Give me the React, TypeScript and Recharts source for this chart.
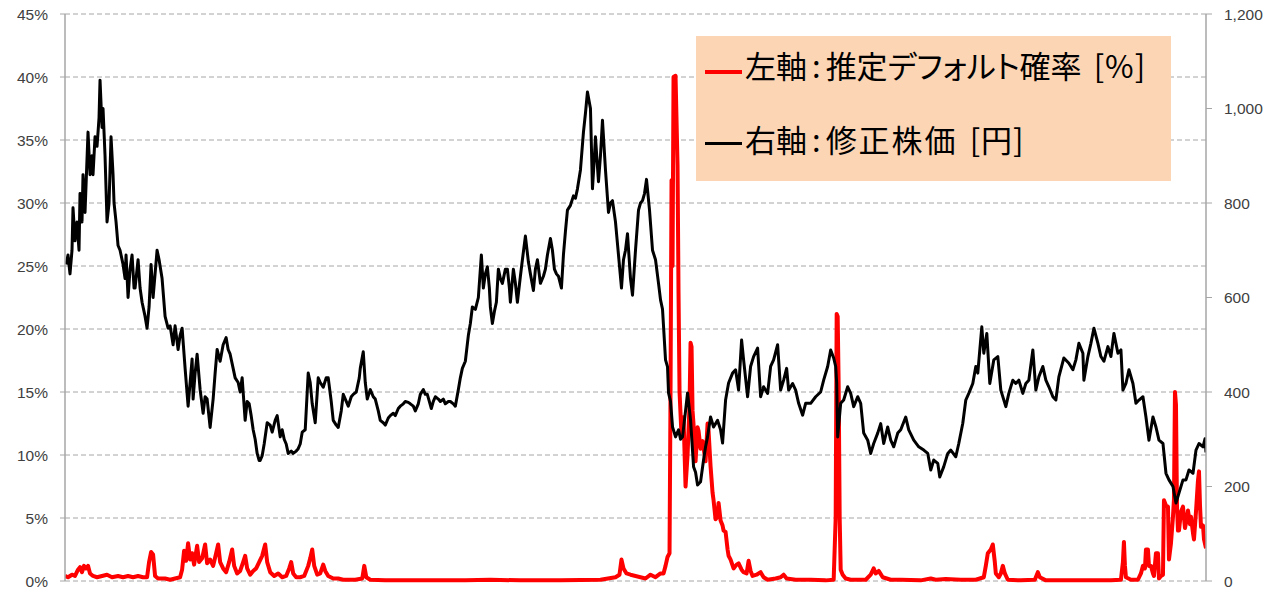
import React from 'react';
import { LineChart, Line, XAxis, YAxis, CartesianGrid, Legend } from 'recharts';

// week index (0 = first observation) and estimated default probability [%]
const pdSeries: [number, number][] = [
  [0, 0.4], [3, 0.3], [7, 0.5], [10, 0.4], [13, 0.9], [15, 1.1], [17, 0.7], [19, 1.2], [21, 1.0], [23, 1.2],
  [25, 0.6], [28, 0.4], [32, 0.3], [37, 0.4], [42, 0.5], [47, 0.3], [53, 0.4], [58, 0.3], [63, 0.4], [68, 0.3],
  [73, 0.4], [78, 0.3], [82, 0.3], [84, 1.5], [86, 2.3], [88, 2.1], [90, 0.4], [93, 0.2], [100, 0.2], [105, 0.1],
  [110, 0.2], [115, 0.3], [117, 0.9], [119, 2.4], [121, 1.6], [123, 3.0], [125, 1.7], [127, 2.2], [129, 1.3], [132, 2.8],
  [134, 1.5], [137, 1.8], [140, 2.9], [142, 1.4], [145, 1.7], [148, 1.2], [151, 2.2], [153, 2.9], [155, 1.5], [158, 1.0],
  [161, 0.7], [164, 1.5], [167, 2.5], [169, 1.2], [172, 0.6], [175, 0.8], [178, 1.5], [180, 2.0], [182, 1.0], [185, 0.5],
  [188, 0.8], [191, 1.0], [194, 1.5], [197, 2.0], [200, 2.9], [202, 1.5], [205, 0.7], [209, 0.4], [213, 0.6], [217, 0.3],
  [221, 0.4], [224, 1.0], [226, 1.5], [228, 0.6], [231, 0.3], [235, 0.3], [239, 0.4], [243, 1.2], [245, 1.8], [247, 2.5],
  [249, 1.2], [252, 0.5], [255, 0.6], [258, 1.3], [260, 0.8], [263, 0.4], [268, 0.2], [273, 0.2], [278, 0.1], [285, 0.1],
  [290, 0.1], [297, 0.2], [299, 1.2], [301, 0.3], [305, 0.1], [320, 0.05], [360, 0.05], [400, 0.05], [425, 0.1], [455, 0.05],
  [495, 0.05], [535, 0.1], [550, 0.3], [554, 0.5], [556, 1.7], [558, 1.0], [561, 0.6], [565, 0.5], [570, 0.4], [575, 0.3],
  [580, 0.2], [585, 0.5], [590, 0.3], [595, 0.6], [598, 0.6], [600, 1.2], [602, 1.9], [604, 2.2], [605, 15], [606, 31.8],
  [607, 25], [608, 40], [610, 40.1], [612, 33], [613, 22.8], [614, 15], [616, 11.5], [618, 13], [620, 7.5], [622, 10],
  [624, 14], [625, 18.9], [626, 18.6], [627, 13.5], [628, 12.4], [630, 9.5], [632, 12.2], [633, 11.9], [635, 10.5], [637, 11.1],
  [640, 9.5], [642, 12.5], [643, 11.9], [645, 9.1], [647, 7.0], [648, 6.4], [650, 4.9], [652, 5.1], [653, 6.2], [655, 4.8],
  [657, 4.4], [658, 4.0], [660, 3.9], [662, 2.5], [663, 2.0], [665, 1.7], [668, 1.0], [671, 1.3], [673, 1.4], [676, 0.9],
  [678, 0.7], [681, 0.6], [683, 1.6], [685, 0.8], [687, 0.4], [691, 0.5], [695, 0.7], [698, 0.3], [702, 0.1], [710, 0.2],
  [715, 0.3], [718, 0.5], [721, 0.2], [730, 0.1], [745, 0.1], [760, 0.05], [768, 0.1], [770, 5], [771, 21.2], [772, 21],
  [773, 15.4], [774, 5], [775, 0.9], [777, 0.5], [780, 0.2], [785, 0.1], [800, 0.1], [805, 0.5], [808, 1.0], [810, 0.6],
  [813, 0.8], [817, 0.3], [825, 0.1], [835, 0.1], [855, 0.05], [865, 0.2], [870, 0.1], [880, 0.15], [895, 0.1], [910, 0.1],
  [918, 0.3], [920, 1.2], [922, 2.2], [925, 2.5], [927, 2.9], [929, 1.5], [930, 0.6], [933, 0.3], [935, 0.6], [937, 1.2],
  [939, 0.6], [942, 0.1], [955, 0.05], [969, 0.1], [972, 0.7], [974, 0.3], [980, 0.05], [1015, 0.05], [1045, 0.05], [1055, 0.1],
  [1057, 1.5], [1058, 3.1], [1059, 1.2], [1060, 0.3], [1065, 0.1], [1072, 0.1], [1075, 0.6], [1077, 1.2], [1079, 1.0], [1080, 2.5],
  [1082, 2.5], [1083, 1.2], [1085, 1.2], [1087, 0.6], [1088, 0.4], [1090, 2.2], [1092, 2.2], [1093, 0.2], [1095, 0.4], [1097, 0.5],
  [1098, 6.4], [1100, 6.0], [1102, 5.9], [1103, 1.7], [1105, 3.0], [1107, 5.1], [1108, 6.5], [1109, 15], [1110, 14], [1111, 6],
  [1112, 4.0], [1113, 4.0], [1115, 5.5], [1117, 5.9], [1119, 4.2], [1121, 5.0], [1122, 5.6], [1124, 4.5], [1125, 5.1], [1127, 3.8],
  [1128, 3.3], [1130, 5.5], [1132, 8.0], [1133, 8.7], [1134, 6.0], [1135, 4.3], [1137, 4.4], [1138, 3.3], [1140, 2.6],
];

// week index and adjusted share price [yen]
const priceSeries: [number, number][] = [
  [1, 670], [3, 690], [5, 650], [7, 700], [8, 790], [10, 720], [12, 760], [14, 700], [15, 820], [17, 760],
  [18, 860], [20, 780], [23, 950], [25, 860], [27, 900], [28, 860], [30, 940], [32, 920], [34, 980], [35, 1060],
  [37, 960], [38, 1000], [40, 900], [42, 760], [44, 800], [46, 940], [48, 860], [49, 800], [51, 760], [53, 710],
  [55, 700], [58, 670], [60, 640], [61, 690], [63, 600], [65, 660], [67, 690], [69, 620], [70, 620], [73, 680],
  [75, 620], [77, 590], [80, 560], [82, 535], [84, 580], [86, 670], [88, 600], [90, 650], [92, 700], [94, 680],
  [97, 640], [100, 560], [103, 535], [105, 540], [108, 500], [110, 540], [113, 490], [115, 520], [117, 535], [120, 450],
  [123, 370], [125, 420], [127, 470], [128, 385], [130, 440], [132, 480], [134, 430], [135, 405], [138, 355], [140, 390],
  [142, 385], [145, 325], [148, 385], [150, 440], [152, 490], [155, 465], [158, 500], [161, 515], [163, 490], [165, 480],
  [168, 450], [170, 430], [173, 420], [175, 400], [177, 430], [180, 340], [182, 380], [184, 375], [186, 350], [188, 320],
  [190, 300], [192, 270], [194, 255], [195, 255], [197, 265], [199, 290], [202, 335], [205, 330], [207, 315], [210, 340],
  [212, 350], [215, 305], [217, 320], [219, 300], [221, 290], [223, 270], [226, 275], [228, 270], [231, 275], [233, 280],
  [235, 290], [237, 315], [240, 320], [243, 440], [245, 420], [247, 375], [250, 335], [253, 430], [255, 420], [258, 410],
  [261, 430], [263, 430], [266, 380], [268, 340], [271, 330], [273, 325], [276, 360], [278, 395], [281, 380], [283, 370],
  [286, 390], [288, 395], [291, 400], [294, 430], [295, 450], [298, 485], [300, 420], [302, 385], [305, 405], [308, 390],
  [310, 385], [313, 360], [315, 340], [318, 335], [320, 330], [323, 345], [325, 350], [328, 355], [330, 350], [333, 365],
  [335, 370], [338, 375], [340, 380], [343, 378], [345, 375], [348, 370], [350, 360], [353, 375], [355, 395], [358, 405],
  [360, 395], [362, 395], [364, 380], [366, 365], [368, 380], [370, 390], [373, 385], [375, 380], [378, 385], [380, 375],
  [383, 380], [385, 380], [388, 375], [390, 370], [393, 405], [395, 430], [397, 450], [400, 465], [403, 520], [405, 545],
  [407, 580], [410, 575], [413, 600], [416, 690], [418, 620], [420, 650], [422, 665], [424, 620], [425, 580], [427, 545],
  [429, 570], [431, 590], [433, 660], [435, 640], [437, 630], [440, 660], [442, 660], [444, 620], [445, 590], [448, 660],
  [450, 630], [452, 590], [455, 645], [457, 680], [460, 730], [463, 675], [465, 650], [468, 615], [470, 660], [472, 680],
  [475, 630], [478, 645], [480, 660], [482, 690], [485, 725], [487, 700], [489, 660], [491, 650], [493, 645], [496, 620],
  [498, 690], [500, 740], [502, 785], [505, 795], [508, 815], [510, 810], [512, 830], [515, 870], [518, 950], [520, 990],
  [522, 1035], [525, 1000], [527, 830], [529, 900], [530, 940], [533, 845], [535, 900], [537, 975], [540, 870], [543, 780],
  [545, 800], [547, 805], [550, 760], [553, 690], [556, 620], [558, 680], [560, 700], [562, 735], [565, 640], [567, 605],
  [570, 700], [573, 785], [575, 800], [577, 805], [579, 820], [581, 850], [584, 785], [587, 700], [590, 680], [593, 630],
  [595, 595], [597, 575], [600, 468], [602, 453], [603, 398], [605, 380], [607, 326], [610, 305], [613, 320], [615, 300],
  [617, 305], [620, 360], [622, 398], [625, 341], [628, 242], [630, 230], [632, 203], [635, 210], [638, 256], [640, 284],
  [642, 305], [645, 347], [648, 326], [652, 340], [655, 320], [657, 292], [660, 383], [663, 419], [667, 440], [670, 447],
  [673, 404], [676, 510], [678, 468], [682, 390], [685, 454], [688, 475], [692, 493], [695, 390], [698, 411], [702, 397],
  [705, 454], [708, 468], [712, 500], [715, 404], [718, 425], [721, 450], [723, 404], [727, 418], [730, 404], [733, 376],
  [737, 351], [740, 376], [745, 376], [750, 390], [755, 400], [758, 425], [762, 454], [765, 489], [768, 472], [770, 454],
  [771, 420], [772, 305], [775, 376], [778, 383], [782, 411], [785, 397], [788, 369], [792, 390], [795, 376], [798, 313],
  [802, 298], [805, 270], [808, 291], [812, 313], [815, 333], [818, 291], [822, 326], [825, 298], [828, 284], [832, 313],
  [835, 320], [840, 347], [843, 320], [848, 298], [853, 284], [858, 277], [862, 270], [865, 235], [868, 256], [872, 249],
  [874, 220], [878, 242], [882, 270], [885, 277], [890, 263], [893, 291], [897, 334], [900, 383], [903, 397], [907, 418],
  [910, 454], [912, 440], [916, 538], [918, 482], [921, 524], [924, 418], [928, 468], [932, 475], [935, 404], [940, 369],
  [943, 397], [947, 425], [950, 418], [953, 425], [957, 397], [960, 418], [963, 425], [967, 489], [970, 404], [973, 432],
  [977, 454], [980, 425], [983, 411], [987, 390], [990, 383], [993, 432], [998, 472], [1003, 461], [1007, 447], [1010, 468],
  [1013, 503], [1017, 482], [1018, 425], [1022, 475], [1025, 503], [1028, 535], [1032, 503], [1035, 475], [1038, 465], [1042, 496],
  [1045, 475], [1048, 524], [1052, 482], [1055, 489], [1057, 404], [1060, 418], [1063, 447], [1067, 418], [1070, 376], [1073, 383],
  [1077, 390], [1080, 347], [1083, 298], [1087, 347], [1090, 326], [1093, 298], [1097, 291], [1100, 228], [1103, 214], [1107, 200],
  [1110, 165], [1113, 186], [1117, 214], [1120, 214], [1123, 235], [1127, 228], [1130, 277], [1133, 291], [1137, 284], [1139, 301],
  [1140, 272],
];

const pctTicks = [0, 5, 10, 15, 20, 25, 30, 35, 40, 45];
const yenTicks = [0, 200, 400, 600, 800, 1000, 1200];
const seriesNames = ['左軸:推定デフォルト確率 [%]', '右軸:修正株価 [円]'];
const seriesColors = ['#FF0000', '#000000'];

const pdData = pdSeries.map(([week, pd]) => ({ week, pd }));
const priceData = priceSeries.map(([week, price]) => ({ week, price }));

const axisColor = '#A6A6A6';
const tickStyle = { fontSize: 15.5, fill: '#404040', fontFamily: '"Liberation Sans", Arial, sans-serif' };

function LegendBox() {
  const rows = [
    { label: seriesNames[0], color: seriesColors[0], thick: 3.5, textTop: 13, lineTop: 34, nameSpacing: 0 },
    { label: seriesNames[1], color: seriesColors[1], thick: 2.5, textTop: 87, lineTop: 106, nameSpacing: 2 },
  ];
  return (
    <div
      style={{
        position: 'relative',
        width: 475,
        height: 145,
        background: '#FCD5B5',
        fontFamily: '"Noto Sans CJK JP", sans-serif',
        fontSize: 31,
        lineHeight: '31px',
        color: '#000',
        fontFeatureSettings: '"palt"',
      }}
    >
      {rows.map((r) => {
        const [axisPart, rest] = r.label.split(':');
        const cut = rest.indexOf(' [');
        const name = rest.slice(0, cut);
        const unit = rest.slice(cut + 1);
        return (
          <React.Fragment key={r.label}>
            <div style={{ position: 'absolute', left: 9, top: r.lineTop, width: 37, height: r.thick, background: r.color }} />
            <div style={{ position: 'absolute', left: 49, top: r.textTop, whiteSpace: 'nowrap' }}>
              {axisPart}
              <span style={{ margin: '0 5px' }}>:</span>
              <span style={{ letterSpacing: r.nameSpacing }}>{name}</span>
              <span style={{ marginLeft: 12, letterSpacing: 1 }}>{unit}</span>
            </div>
          </React.Fragment>
        );
      })}
    </div>
  );
}

export default function App() {
  return (
    <div style={{ position: 'absolute', left: 0, top: 0, background: '#fff' }}>
      <LineChart width={1279} height={596} margin={{ top: 14, right: 0, bottom: 15, left: 0 }}>
        <CartesianGrid yAxisId="left" horizontal vertical={false} stroke={axisColor} strokeDasharray="5 3" />
        <XAxis dataKey="week" type="number" domain={[0, 1140]} allowDataOverflow hide />
        <YAxis
          yAxisId="left"
          orientation="left"
          width={65}
          domain={[0, 45]}
          ticks={pctTicks}
          interval={0}
          tickFormatter={(v: number) => `${v}%`}
          axisLine={{ stroke: axisColor, strokeWidth: 1.5 }}
          tickLine={{ stroke: axisColor }}
          tickSize={5}
          tickMargin={12}
          tick={tickStyle}
        />
        <YAxis
          yAxisId="right"
          orientation="right"
          width={73}
          domain={[0, 1200]}
          ticks={yenTicks}
          interval={0}
          tickFormatter={(v: number) => v.toLocaleString('en-US')}
          axisLine={{ stroke: axisColor, strokeWidth: 1.5 }}
          tickLine={{ stroke: axisColor }}
          tickSize={6}
          tickMargin={12}
          tick={{ ...tickStyle, textAnchor: 'start' }}
        />
        <Legend
          layout="vertical"
          verticalAlign="middle"
          align="center"
          wrapperStyle={{ left: 696, top: 36, width: 475, height: 145 }}
          content={() => <LegendBox />}
        />
        <Line
          yAxisId="left"
          data={pdData}
          dataKey="pd"
          name={seriesNames[0]}
          type="linear"
          stroke={seriesColors[0]}
          strokeWidth={4}
          strokeLinejoin="round"
          dot={false}
          isAnimationActive={false}
        />
        <Line
          yAxisId="right"
          data={priceData}
          dataKey="price"
          name={seriesNames[1]}
          type="linear"
          stroke={seriesColors[1]}
          strokeWidth={3}
          strokeLinejoin="round"
          dot={false}
          isAnimationActive={false}
        />
      </LineChart>
    </div>
  );
}
